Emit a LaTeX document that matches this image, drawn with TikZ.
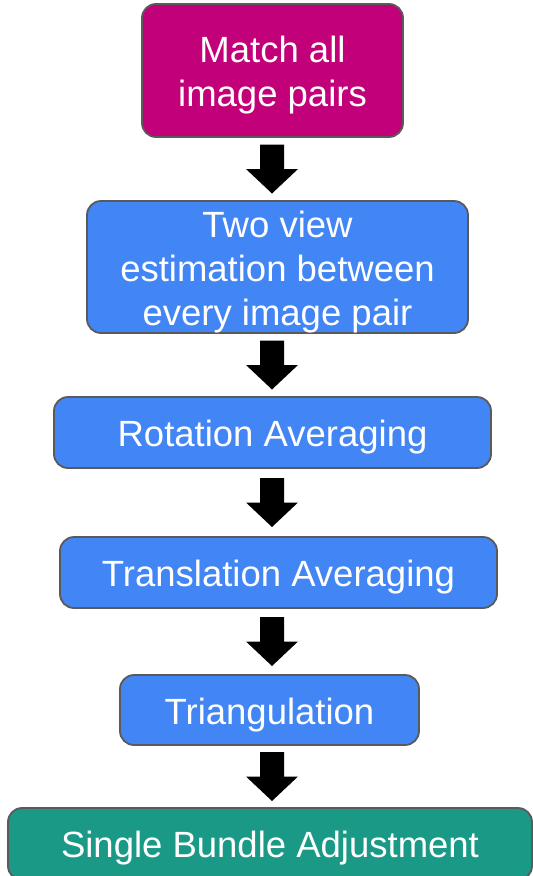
\documentclass[tikz,border=0pt]{standalone}
\usepackage{fontspec}
\setmainfont{Liberation Sans}
\usetikzlibrary{calc}
\definecolor{magentabox}{HTML}{C2007A}
\definecolor{bluebox}{HTML}{4285F4}
\definecolor{tealbox}{HTML}{1B9987}
\definecolor{edgegray}{HTML}{5A5A5A}
\tikzset{
  stagebox/.style={draw=edgegray, line width=1.8pt, rounded corners=14pt, inner sep=0pt},
  stagetext/.style={text=white, align=center, inner sep=0pt,
    font=\fontsize{36.5}{44}\selectfont},
}
\newcommand\blockarrow[2]{%
  \fill[black] let \p1=(#1.south), \p2=(#2.north), \n1={(\y1+\y2)/2} in
    (260pt,\n1+24.5pt) -- (284pt,\n1+24.5pt) -- (284pt,\n1) -- (298pt,\n1)
    -- (272pt,\n1-24.5pt) -- (246pt,\n1) -- (260pt,\n1) -- cycle;}
\begin{document}
\begin{tikzpicture}[x=1pt,y=-1pt]
\useasboundingbox (0,0) rectangle (533,876);
\node[stagebox, fill=magentabox, minimum width=261pt, minimum height=133pt] (match) at (272.5,70.5) {};
\node[stagebox, fill=bluebox, minimum width=381pt, minimum height=132pt] (twoview) at (277.5,267) {};
\node[stagebox, fill=bluebox, minimum width=437pt, minimum height=71pt] (rot) at (272.5,432.5) {};
\node[stagebox, fill=bluebox, minimum width=437pt, minimum height=71pt] (trans) at (278.5,572.5) {};
\node[stagebox, fill=bluebox, minimum width=299pt, minimum height=70pt] (tri) at (269.5,710) {};
\node[stagebox, fill=tealbox, minimum width=524pt, minimum height=72pt] (sba) at (270,844) {};
\node[stagetext] (match-t) at ([yshift=-5pt]match.center) {Match all\\image pairs};
\node[stagetext] (twoview-t) at ([yshift=-5pt]twoview.center) {Two view\\estimation between\\every image pair};
\node[stagetext] (rot-t) at ([yshift=-5pt]rot.center) {Rotation Averaging};
\node[stagetext] (trans-t) at ([yshift=-5pt]trans.center) {Translation Averaging};
\node[stagetext] (tri-t) at ([yshift=-5pt]tri.center) {Triangulation};
\node[stagetext] (sba-t) at ([yshift=-4pt]sba.center) {Single Bundle Adjustment};
\blockarrow{match}{twoview}
\blockarrow{twoview}{rot}
\blockarrow{rot}{trans}
\blockarrow{trans}{tri}
\blockarrow{tri}{sba}
\end{tikzpicture}
\end{document}
